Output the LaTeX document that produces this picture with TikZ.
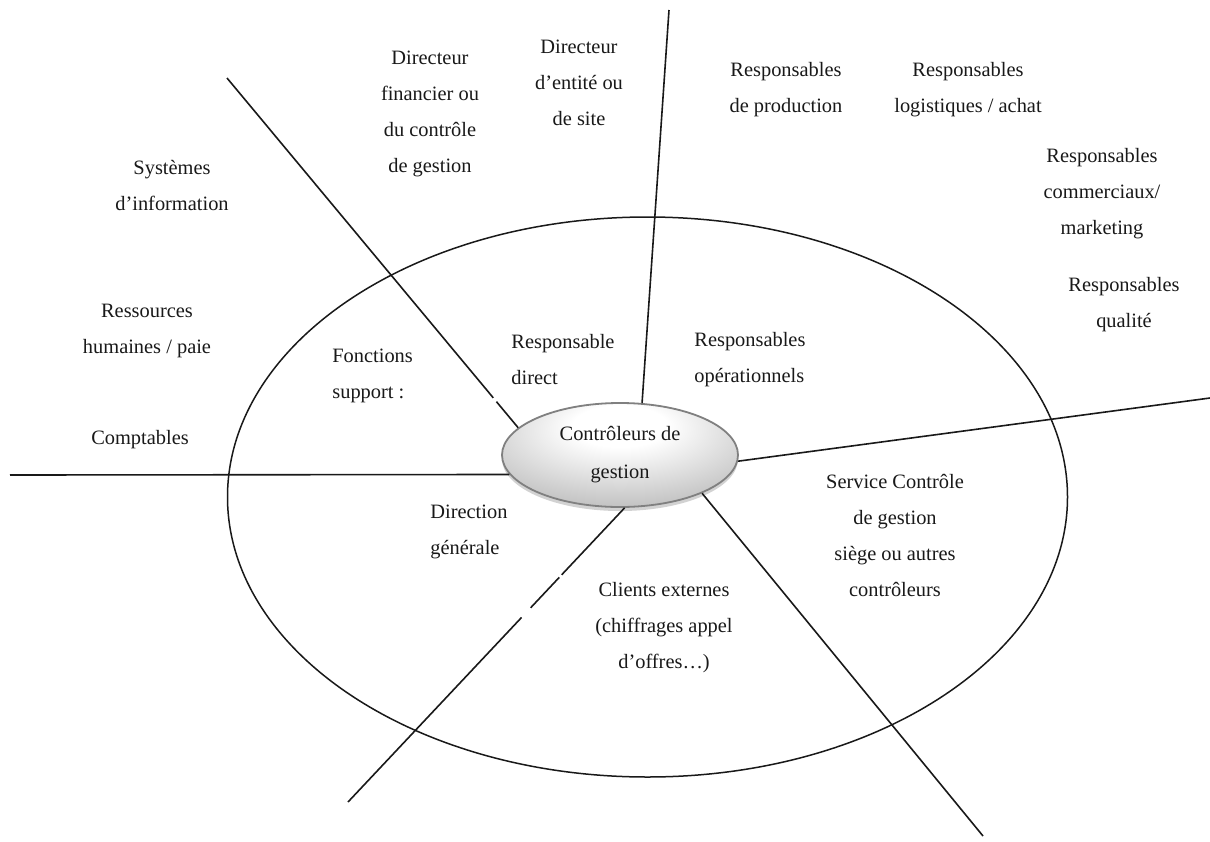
\documentclass[tikz,border=0pt]{standalone}
\usepackage{fontspec}
\setmainfont{Liberation Serif}
\usetikzlibrary{shapes.geometric,shadows,calc}
\pgfdeclareradialshading{ctrlshade}{\pgfpoint{0bp}{16bp}}{color(0bp)=(white); color(10bp)=(white); color(40bp)=(black!30); color(60bp)=(black!45); color(75bp)=(black!50)}
\begin{document}
\begin{tikzpicture}[x=0.5pt,y=-0.5pt,
  lbl/.style={font=\fontsize{10.2}{18}\selectfont, text=black!90, align=center, inner sep=1pt},
  lbll/.style={lbl, align=left, anchor=west},
  spoke/.style={line width=0.8pt, black!90},
  ring/.style={line width=0.75pt, black!90},
  gapmark/.style={white, line width=2.5pt},
  ctrlnode/.style={ellipse, draw=black!50, line width=0.9pt, shading=ctrlshade,
    minimum width=118pt, minimum height=52pt, inner sep=0pt, align=center,
    font=\fontsize{10.2}{19}\selectfont, text=black!90,
    drop shadow={shadow xshift=0pt, shadow yshift=-2pt, opacity=0.25, fill=black!70}}
]
\useasboundingbox (0,0) rectangle (1210,841);
\fill[white] (0,0) rectangle (1210,841);

% outer ring
\draw[ring] (647.5,497) ellipse [x radius=420, y radius=280];

% central node
\node[ctrlnode] (ctrl) at (620,455) {Contrôleurs de\\gestion};

% free ends of the spokes
\coordinate (eL) at (10,475);
\coordinate (eUL) at (227,78);
\coordinate (eT) at (669,10);
\coordinate (eR) at (1210,398);
\coordinate (eLR) at (983,836);
\coordinate (eLL) at (348,802);

\draw[spoke] (ctrl.190.4) -- (eL);
\draw[spoke] (ctrl.165.6) -- (eUL);
\draw[spoke] (ctrl.67.6) -- (eT);
\draw[spoke] (ctrl.357.6) -- (eR);
\draw[spoke] (ctrl.335.9) -- (eLR);
\draw[spoke] (ctrl.275.4) -- (eLL);

% small breaks in the spokes
\draw[gapmark] ($(eUL)!0.915!(ctrl.165.6)$) -- ($(eUL)!0.925!(ctrl.165.6)$);
\draw[gapmark] ($(ctrl.275.4)!0.228!(eLL)$) -- ($(ctrl.275.4)!0.236!(eLL)$);
\draw[gapmark] ($(ctrl.275.4)!0.340!(eLL)$) -- ($(ctrl.275.4)!0.372!(eLL)$);

% labels
\node[lbl] (dirfin) at (430,114) {Directeur\\financier ou\\du contrôle\\de gestion};
\node[lbl] (dirsite) at (579,83) {Directeur\\d’entité ou\\de site};
\node[lbl] (prod) at (786,90) {Responsables\\de production};
\node[lbl] (logi) at (968,90) {Responsables\\logistiques / achat};
\node[lbl] (comm) at (1102,194) {Responsables\\commerciaux/\\marketing};
\node[lbl] (qual) at (1124,305) {Responsables\\qualité};
\node[lbl] (sys) at (172,186) {Systèmes\\d’information};
\node[lbl] (rh) at (147,331) {Ressources\\humaines / paie};
\node[lbl] (compt) at (140,440) {Comptables};
\node[lbll] (fonc) at (330,376) {Fonctions\\support :};
\node[lbll] (resdir) at (509,360) {Responsable\\direct};
\node[lbll] (resop) at (692,360) {Responsables\\opérationnels};
\node[lbll] (dirgen) at (428,532) {Direction\\générale};
\node[lbl] (clients) at (664,628) {Clients externes\\(chiffrages appel\\d’offres…)};
\node[lbl] (serv) at (895,535) {Service Contrôle\\de gestion\\siège ou autres\\contrôleurs};
\end{tikzpicture}
\end{document}
